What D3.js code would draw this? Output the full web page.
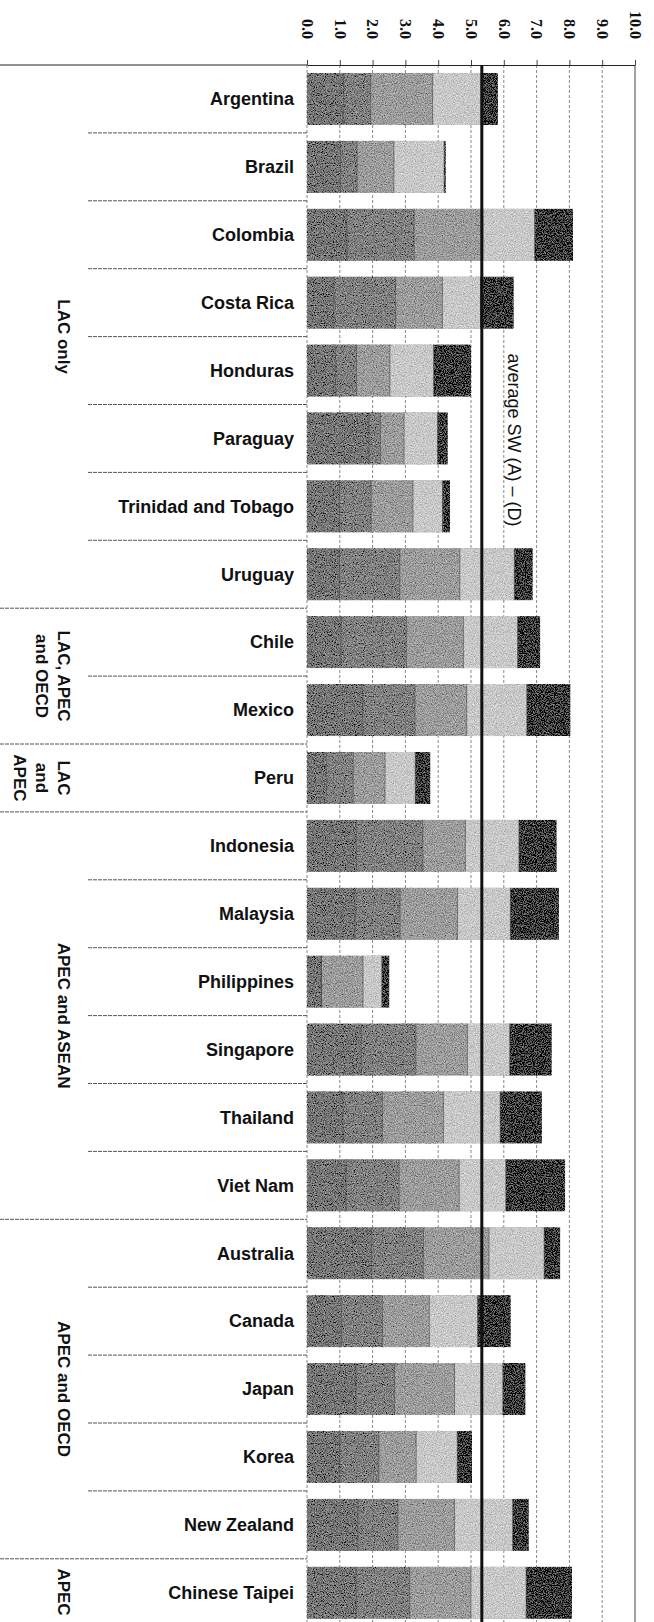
<!DOCTYPE html>
<html>
<head>
<meta charset="utf-8">
<script src="https://cdn.jsdelivr.net/npm/d3@7"></script>
<style>
  body { margin: 0; background: #fff; }
  svg { display: block; }
  .country { font-family: "Liberation Sans", Arial, sans-serif; font-weight: bold; font-size: 18px; fill: #111; }
  .group { font-family: "Liberation Sans", Arial, sans-serif; font-weight: bold; font-size: 17px; fill: #111; }
  .tick text { font-family: "Liberation Serif", "Times New Roman", serif; font-weight: bold; font-size: 16px; fill: #111; }
  .avg-label { font-family: "Liberation Sans", Arial, sans-serif; font-size: 18px; fill: #111; }
</style>
</head>
<body>
<div id="chart"></div>
<script>
// countries, top to bottom
var countries = ["Argentina", "Brazil", "Colombia", "Costa Rica", "Honduras", "Paraguay",
    "Trinidad and Tobago", "Uruguay", "Chile", "Mexico", "Peru", "Indonesia", "Malaysia",
    "Philippines", "Singapore", "Thailand", "Viet Nam", "Australia", "Canada", "Japan",
    "Korea", "New Zealand", "Chinese Taipei"];

// groups of countries (lines of the rotated label) and how many rows each covers
var groupLabels = [["LAC only"], ["LAC, APEC", "and OECD"], ["LAC", "and", "APEC"],
    ["APEC and ASEAN"], ["APEC and OECD"], ["APEC"]];
var groupSizes = [8, 2, 1, 6, 5, 1];

// stacked components (A) ... (E), same order as countries
var segA = [1.12, 1.02, 1.22, 0.82, 0.87, 1.89, 0.99, 0.99, 1.04, 1.70, 0.59, 1.51, 1.46,
    0.44, 1.66, 1.10, 1.19, 1.97, 1.05, 1.50, 1.00, 1.55, 1.50];
var segB = [0.82, 0.51, 2.05, 1.88, 0.64, 0.35, 0.97, 1.84, 1.99, 1.59, 0.82, 2.02, 1.38,
    0.00, 1.66, 1.20, 1.62, 1.58, 1.25, 1.17, 1.19, 1.22, 1.63];
var segC = [1.89, 1.12, 2.09, 1.43, 1.02, 0.72, 1.27, 1.83, 1.74, 1.58, 0.97, 1.30, 1.75,
    1.27, 1.57, 1.86, 1.83, 2.00, 1.43, 1.83, 1.14, 1.73, 1.87];
var segD = [1.48, 1.53, 1.58, 1.16, 1.33, 1.02, 0.90, 1.66, 1.65, 1.83, 0.92, 1.63, 1.61,
    0.57, 1.29, 1.73, 1.42, 1.68, 1.47, 1.47, 1.25, 1.77, 1.68];
var segE = [0.51, 0.05, 1.17, 1.01, 1.14, 0.31, 0.23, 0.56, 0.69, 1.33, 0.46, 1.15, 1.48,
    0.23, 1.28, 1.27, 1.81, 0.49, 1.01, 0.69, 0.45, 0.49, 1.40];

var segKeys = ["A", "B", "C", "D", "E"];
var segColors = ["#767676", "#808080", "#9c9c9c", "#c8c8c8", "#3b3b3b"];

// average SW (A) - (D)
var averageSW = 5.33;
var tickValues = [0, 1, 2, 3, 4, 5, 6, 7, 8, 9, 10];

var width = 654,
    height = 1622,
    marginTop = 65,
    rowStep = 67.9,
    labelRight = 294,
    subLineLeft = 88;

var svg = d3.select("#chart").append("svg")
    .attr("width", width)
    .attr("height", height);

// grainy fill, the bars in the original are dithered
var filter = svg.append("defs").append("filter")
    .attr("id", "grain")
    .attr("x", 0).attr("y", 0).attr("width", 1).attr("height", 1);
filter.append("feTurbulence")
    .attr("type", "fractalNoise").attr("baseFrequency", 0.9)
    .attr("numOctaves", 2).attr("seed", 7).attr("result", "noise");
filter.append("feColorMatrix")
    .attr("in", "noise").attr("type", "matrix")
    .attr("values", "1 0 0 0 0  1 0 0 0 0  1 0 0 0 0  0 0 0 0 1")
    .attr("result", "gray");
filter.append("feComposite")
    .attr("in", "SourceGraphic").attr("in2", "gray")
    .attr("operator", "arithmetic")
    .attr("k1", 0).attr("k2", 1).attr("k3", 0.8).attr("k4", -0.4)
    .attr("result", "mix");
filter.append("feComposite")
    .attr("in", "mix").attr("in2", "SourceGraphic").attr("operator", "in");

var x = d3.scaleLinear().domain([0, 10]).range([307, 635]);
var y = d3.scaleBand()
    .domain(countries)
    .range([marginTop, marginTop + countries.length * rowStep])
    .paddingInner(0.234)
    .paddingOuter(0.117);

// build the table for the stack
var table = countries.map(function(c, i) {
    return {country: c, A: segA[i], B: segB[i], C: segC[i], D: segD[i], E: segE[i]};
});
var series = d3.stack().keys(segKeys)(table);

// ****************** grid ***************************
svg.append("g")
    .selectAll("line")
    .data(tickValues)
    .enter().append("line")
    .attr("x1", function(d) { return x(d); })
    .attr("x2", function(d) { return x(d); })
    .attr("y1", marginTop)
    .attr("y2", height)
    .attr("stroke", function(d) { return d == 10 ? "#444" : "#888"; })
    .attr("stroke-width", 1)
    .attr("stroke-dasharray", function(d) { return d == 10 ? null : "3,2"; });

// row separators, long ones between groups
var groupEnds = Array.from(d3.cumsum(groupSizes));
var groupStarts = [0].concat(groupEnds.slice(0, -1));
var seps = d3.range(1, countries.length);
svg.append("g")
    .selectAll("line")
    .data(seps)
    .enter().append("line")
    .attr("x1", function(i) { return groupEnds.indexOf(i) >= 0 ? 0 : subLineLeft; })
    .attr("x2", x(0))
    .attr("y1", function(i) { return y(countries[i]) - y.step() * y.paddingInner() / 2; })
    .attr("y2", function(i) { return y(countries[i]) - y.step() * y.paddingInner() / 2; })
    .attr("stroke", "#555")
    .attr("stroke-width", 1)
    .attr("stroke-dasharray", "4,1");

// ****************** bars ***************************
svg.append("g")
    .selectAll("g")
    .data(series)
    .enter().append("g")
    .attr("fill", function(d, i) { return segColors[i]; })
    .selectAll("rect")
    .data(function(d) { return d; })
    .enter().append("rect")
    .attr("x", function(d) { return x(d[0]); })
    .attr("y", function(d) { return y(d.data.country); })
    .attr("width", function(d) { return Math.max(0, x(d[1]) - x(d[0])); })
    .attr("height", y.bandwidth())
    .attr("filter", "url(#grain)");

// thin edges between the segments
svg.append("g")
    .selectAll("g")
    .data(series.slice(0, 4))
    .enter().append("g")
    .selectAll("line")
    .data(function(d) { return d; })
    .enter().append("line")
    .attr("x1", function(d) { return x(d[1]); })
    .attr("x2", function(d) { return x(d[1]); })
    .attr("y1", function(d) { return y(d.data.country); })
    .attr("y2", function(d) { return y(d.data.country) + y.bandwidth(); })
    .attr("stroke", "#333")
    .attr("stroke-opacity", 0.6)
    .attr("stroke-width", 0.8);

// ****************** axis ***************************
var axis = svg.append("g")
    .attr("transform", "translate(0," + marginTop + ")")
    .call(d3.axisTop(x).tickValues(tickValues).tickFormat(d3.format(".1f")).tickSize(5).tickSizeOuter(0));
axis.select(".domain").attr("stroke", "#222");
axis.selectAll(".tick line").attr("stroke", "#444");
axis.selectAll(".tick text")
    .attr("transform", "rotate(90)")
    .attr("x", -26)
    .attr("y", 0)
    .attr("dy", "0.35em")
    .attr("text-anchor", "end");

// top line continues over the label area
svg.append("line")
    .attr("x1", 0).attr("x2", x(0))
    .attr("y1", marginTop).attr("y2", marginTop)
    .attr("stroke", "#222");

// average line and its label
svg.append("line")
    .attr("x1", x(averageSW)).attr("x2", x(averageSW))
    .attr("y1", marginTop).attr("y2", height)
    .attr("stroke", "#111")
    .attr("stroke-width", 3);
svg.append("text")
    .attr("class", "avg-label")
    .attr("transform", "translate(" + (x(averageSW) + 32) + ",440) rotate(90)")
    .attr("dy", "0.35em")
    .attr("text-anchor", "middle")
    .text("average SW (A) \u2013 (D)");

// ****************** labels ***************************
svg.append("g")
    .selectAll("text")
    .data(countries)
    .enter().append("text")
    .attr("class", "country")
    .attr("x", labelRight)
    .attr("y", function(d) { return y(d) + y.bandwidth() / 2; })
    .attr("dy", "0.35em")
    .attr("text-anchor", "end")
    .text(function(d) { return d; });

var groups = svg.append("g")
    .selectAll("text")
    .data(groupLabels)
    .enter().append("text")
    .attr("class", "group")
    .attr("text-anchor", "middle")
    .attr("transform", function(d, i) {
        var y0 = marginTop + groupStarts[i] * rowStep,
            y1 = marginTop + groupEnds[i] * rowStep;
        return "translate(64," + Math.min((y0 + y1) / 2, height - 30) + ") rotate(90)";
    });
groups.selectAll("tspan")
    .data(function(d) { return d; })
    .enter().append("tspan")
    .attr("x", 0)
    .attr("y", function(d, i) { return i * 22; })
    .attr("dy", "0.35em")
    .text(function(d) { return d; });
</script>
</body>
</html>
